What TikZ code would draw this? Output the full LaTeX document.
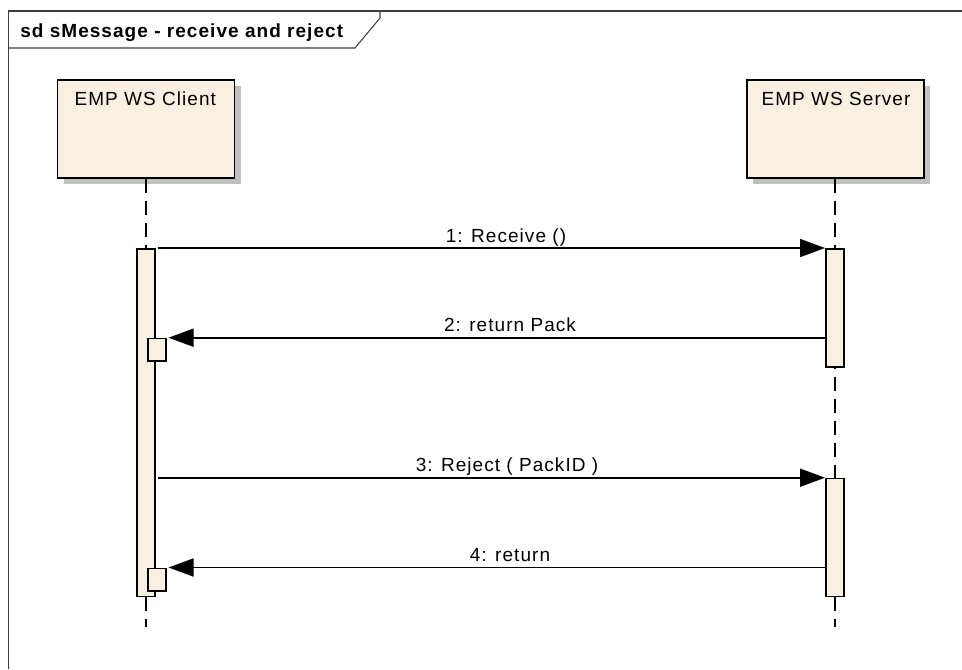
\documentclass[tikz,border=0pt]{standalone}
\usepackage{fontspec}
\setmainfont[LetterSpace=5.5]{Liberation Sans}
\usetikzlibrary{arrows.meta}
\definecolor{umlfill}{RGB}{250,240,226}
\definecolor{umlshadow}{RGB}{192,192,192}
\definecolor{framecol}{RGB}{60,60,60}
\tikzset{
  px/.style={x=0.75pt,y=-0.75pt},
  lifebox/.style={draw=black,fill=umlfill,line width=1.3pt,minimum width=132.75pt,minimum height=73.5pt,inner sep=0pt,anchor=north west},
  shadowbox/.style={fill=umlshadow,minimum width=132.75pt,minimum height=73.5pt,inner sep=0pt,anchor=north west},
  actbox/.style={draw=black,fill=umlfill,line width=1.3pt,minimum width=13.7pt,inner sep=0pt,anchor=north},
  smallbox/.style={draw=black,fill=umlfill,line width=1.3pt,minimum width=14pt,minimum height=17pt,inner sep=0pt,anchor=north west},
  lifeline/.style={line width=1.3pt,dash pattern=on 10.5pt off 6pt},
  msg/.style={line width=1.3pt,-{Triangle[length=18.75pt,width=13.5pt]}},
  msglabel/.style={anchor=base,font=\fontsize{14.25pt}{16pt}\selectfont,inner sep=0pt},
  boxlabel/.style={anchor=base,font=\fontsize{14.25pt}{16pt}\selectfont,inner sep=0pt},
  frameline/.style={draw=framecol,line width=0.8pt}
}
\begin{document}
\begin{tikzpicture}[px]
\useasboundingbox (0,0) rectangle (962,669);
% frame
\draw[frameline] (8.5,669) -- (8.5,11) -- (962,11);
\draw[frameline] (8.5,48) -- (355,48) -- (380,18) -- (380,11);
\node[anchor=base west,inner sep=0pt,font=\bfseries\fontsize{14.25pt}{16pt}\selectfont] (title) at (20,37) {sd sMessage - receive and reject};
% lifeline heads
\node[shadowbox] (clientsh) at (63.7,86) {};
\node[shadowbox] (serversh) at (753,86) {};
\node[lifebox] (client) at (56.7,79) {};
\node[lifebox] (server) at (746,79) {};
\node[boxlabel] (clientlbl) at (145.3,105) {EMP WS Client};
\node[boxlabel] (serverlbl) at (836,105) {EMP WS Server};
% lifelines
\coordinate (clientend) at (146,627);
\coordinate (serverend) at (835,627);
\draw[lifeline] (client.south -| clientend) -- (clientend);
\draw[lifeline] (server.south -| serverend) -- (serverend);
% activations
\node[actbox,minimum height=260.8pt] (c1) at (146,248) {};
\node[actbox,minimum height=88.5pt] (s1) at (835,248) {};
\node[actbox,minimum height=88.5pt] (s2) at (835,477.7) {};
\node[smallbox] (cs1) at (146.8,337.7) {};
\node[smallbox] (cs2) at (146.8,567.5) {};
% messages
\draw[msg] ([xshift=1.2pt]c1.north east) -- (s1.north west);
\draw[msg] (s1.west |- cs1.north east) -- ([xshift=1pt]cs1.north east);
\draw[msg] ([xshift=1.2pt]c1.east |- s2.north west) -- (s2.north west);
\draw[msg] (s2.west |- cs2.north east) -- ([xshift=1pt]cs2.north east);
% labels
\node[msglabel] (m1) at (506,242) {1: Receive ()};
\node[msglabel] (m2) at (510,331.7) {2: return Pack};
\node[msglabel] (m3) at (507,471.7) {3: Reject ( PackID )};
\node[msglabel] (m4) at (510,561.7) {4: return};
\end{tikzpicture}
\end{document}
